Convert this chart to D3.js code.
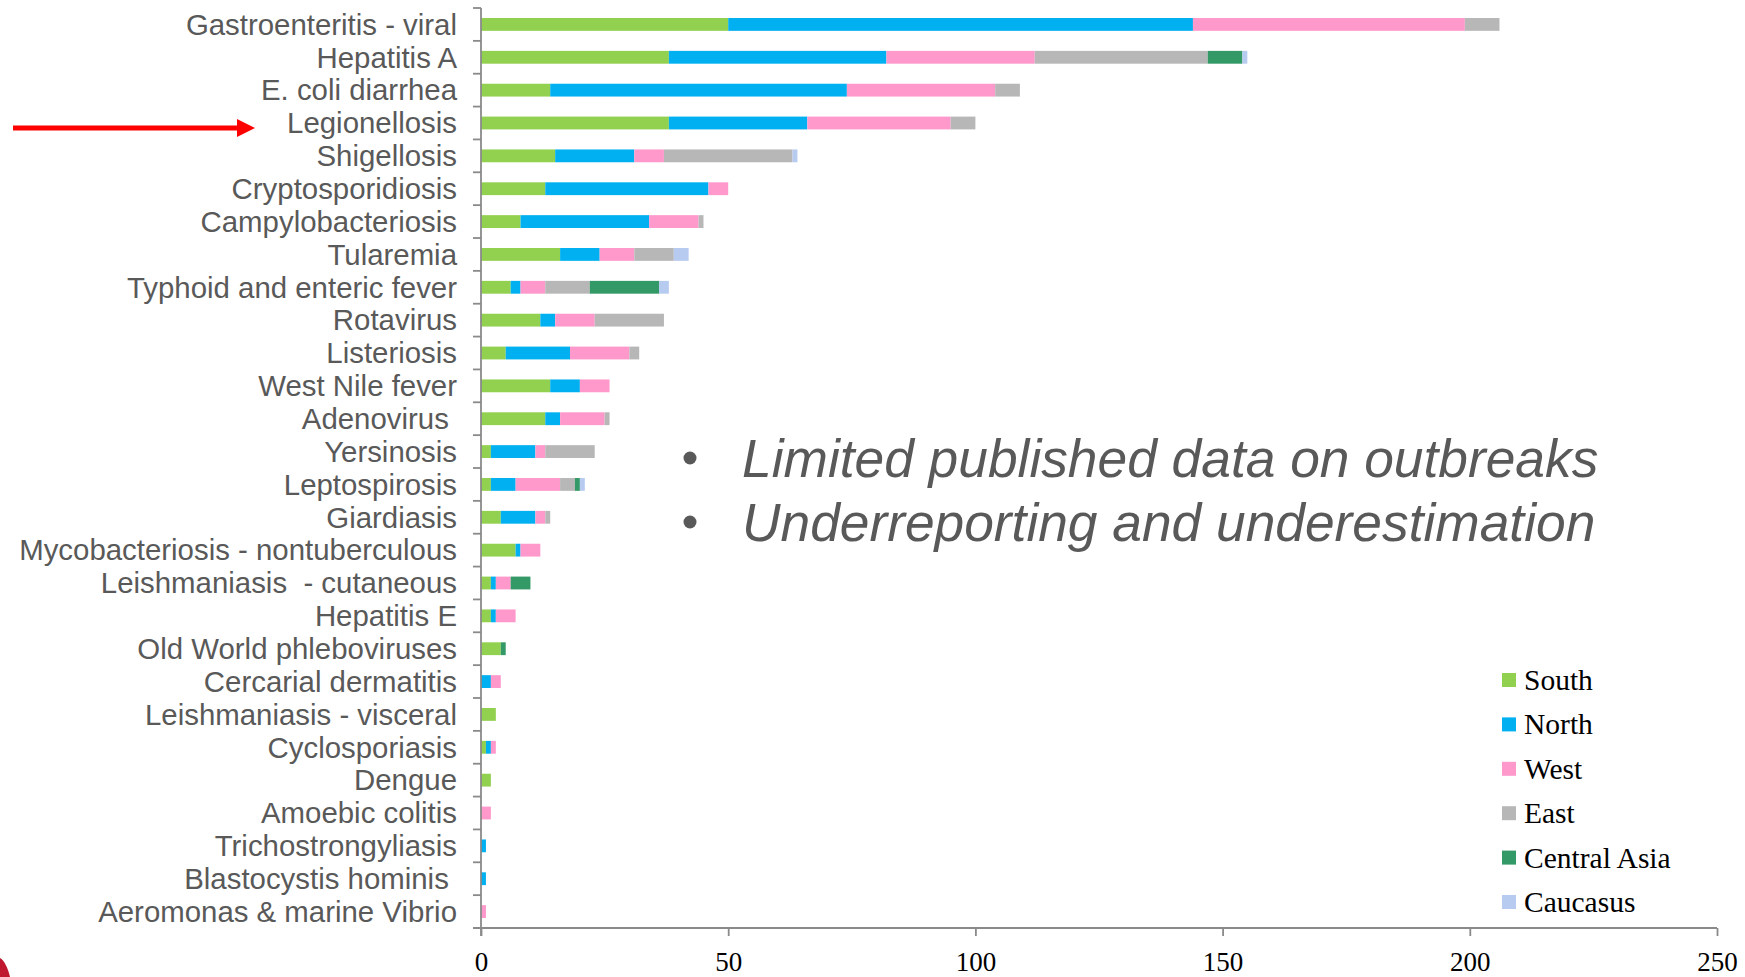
<!DOCTYPE html>
<html>
<head>
<meta charset="utf-8">
<script src="https://cdn.jsdelivr.net/npm/d3@7"></script>
<style>
  body { margin: 0; background: #fff; }
  svg { display: block; }
  .cat { font-family: "Liberation Sans", Arial, sans-serif; font-size: 29.4px; fill: #595959; white-space: pre; }
  .tick-lbl { font-family: "Liberation Serif", "Times New Roman", serif; font-size: 27px; fill: #000; }
  .legend text { font-family: "Liberation Serif", "Times New Roman", serif; font-size: 29.5px; fill: #000; }
  .note { font-family: "Liberation Sans", Arial, sans-serif; font-size: 53.3px; font-style: italic; fill: #595959; }
</style>
</head>
<body>
<svg width="1745" height="977"></svg>
<script>
// categories top to bottom
const categories = [
  'Gastroenteritis - viral', 'Hepatitis A', 'E. coli diarrhea', 'Legionellosis',
  'Shigellosis', 'Cryptosporidiosis', 'Campylobacteriosis', 'Tularemia',
  'Typhoid and enteric fever', 'Rotavirus', 'Listeriosis', 'West Nile fever',
  'Adenovirus ', 'Yersinosis', 'Leptospirosis', 'Giardiasis',
  'Mycobacteriosis - nontuberculous', 'Leishmaniasis  - cutaneous', 'Hepatitis E',
  'Old World phleboviruses', 'Cercarial dermatitis', 'Leishmaniasis - visceral',
  'Cyclosporiasis', 'Dengue', 'Amoebic colitis', 'Trichostrongyliasis',
  'Blastocystis hominis ', 'Aeromonas & marine Vibrio'
];

const south       = [50, 38, 14, 38, 15, 13, 8, 16, 6, 12, 5, 14, 13, 2, 2, 4, 7, 2, 2, 4, 0, 3, 1, 2, 0, 0, 0, 0];
const north       = [94, 44, 60, 28, 16, 33, 26, 8, 2, 3, 13, 6, 3, 9, 5, 7, 1, 1, 1, 0, 2, 0, 1, 0, 0, 1, 1, 0];
const west        = [55, 30, 30, 29, 6, 4, 10, 7, 5, 8, 12, 6, 9, 2, 9, 2, 4, 3, 4, 0, 2, 0, 1, 0, 2, 0, 0, 1];
const east        = [7, 35, 5, 5, 26, 0, 1, 8, 9, 14, 2, 0, 1, 10, 3, 1, 0, 0, 0, 0, 0, 0, 0, 0, 0, 0, 0, 0];
const centralAsia = [0, 7, 0, 0, 0, 0, 0, 0, 14, 0, 0, 0, 0, 0, 1, 0, 0, 4, 0, 1, 0, 0, 0, 0, 0, 0, 0, 0];
const caucasus    = [0, 1, 0, 0, 1, 0, 0, 3, 2, 0, 0, 0, 0, 0, 1, 0, 0, 0, 0, 0, 0, 0, 0, 0, 0, 0, 0, 0];

const regions = ['South', 'North', 'West', 'East', 'Central Asia', 'Caucasus'];
const regionColors = ['#92D050', '#00B0F0', '#FF99CC', '#B7B7B7', '#339966', '#B7CBF0'];
const xTicks = [0, 50, 100, 150, 200, 250];
const notes = ['Limited published data on outbreaks', 'Underreporting and underestimation'];

const rows = categories.map((c, i) => ({
  cat: c,
  'South': south[i], 'North': north[i], 'West': west[i],
  'East': east[i], 'Central Asia': centralAsia[i], 'Caucasus': caucasus[i]
}));

const svg = d3.select('svg');
const axisColor = '#8a8a8a';

const x = d3.scaleLinear().domain([0, 250]).range([481, 1717]);
const y = d3.scaleBand().domain(categories).range([8, 928])
  .paddingInner(0.61).paddingOuter(0.305);
const color = d3.scaleOrdinal().domain(regions).range(regionColors);

const series = d3.stack().keys(regions)(rows);

// bars
svg.append('g').selectAll('g')
  .data(series)
  .join('g')
  .attr('fill', d => color(d.key))
  .selectAll('rect')
  .data(d => d.filter(p => p[1] > p[0]))
  .join('rect')
  .attr('x', d => x(d[0]))
  .attr('y', d => y(d.data.cat))
  .attr('width', d => x(d[1]) - x(d[0]))
  .attr('height', y.bandwidth());

// y axis line + boundary ticks
const step = y.step();
const bounds = d3.range(categories.length + 1).map(i => 8 + i * step);
svg.append('line')
  .attr('x1', x(0)).attr('x2', x(0))
  .attr('y1', 8).attr('y2', 936)
  .attr('stroke', axisColor).attr('stroke-width', 1.8);
svg.append('g').selectAll('line')
  .data(bounds)
  .join('line')
  .attr('x1', x(0) - 8).attr('x2', x(0))
  .attr('y1', d => d).attr('y2', d => d)
  .attr('stroke', axisColor).attr('stroke-width', 1.8);

// category labels
svg.append('g').selectAll('text')
  .data(categories)
  .join('text')
  .attr('class', 'cat')
  .attr('x', 457)
  .attr('y', d => y(d) + y.bandwidth() / 2)
  .attr('dy', '0.35em')
  .attr('text-anchor', 'end')
  .text(d => d);

// x axis
const xAxis = svg.append('g')
  .attr('transform', 'translate(0,928)')
  .call(d3.axisBottom(x).tickValues(xTicks).tickSize(8).tickPadding(16).tickSizeOuter(0));
xAxis.select('.domain').remove();
xAxis.selectAll('line').attr('stroke', axisColor).attr('stroke-width', 1.8);
xAxis.selectAll('text').attr('class', 'tick-lbl').attr('fill', null).attr('font-size', null).attr('font-family', null);
svg.append('line')
  .attr('x1', x(0) - 8).attr('x2', x(250))
  .attr('y1', 928).attr('y2', 928)
  .attr('stroke', axisColor).attr('stroke-width', 1.8);

// legend
const legend = svg.append('g').attr('class', 'legend')
  .selectAll('g')
  .data(regions)
  .join('g')
  .attr('transform', (d, i) => `translate(1502,${673 + i * 44.4})`);
legend.append('rect')
  .attr('width', 14).attr('height', 14)
  .attr('fill', d => color(d));
legend.append('text')
  .attr('x', 22).attr('y', 17)
  .text(d => d);

// bullet notes
const note = svg.append('g').selectAll('g')
  .data(notes)
  .join('g')
  .attr('transform', (d, i) => `translate(0,${477 + i * 64})`);
note.append('circle')
  .attr('cx', 690).attr('cy', -19).attr('r', 6.5)
  .attr('fill', '#595959');
note.append('text')
  .attr('class', 'note')
  .attr('x', 742).attr('y', 0)
  .text(d => d);

// red arrow pointing at Legionellosis
const ay = y('Legionellosis') + y.bandwidth() / 2 + 5;
svg.append('line')
  .attr('x1', 13).attr('x2', 240)
  .attr('y1', ay).attr('y2', ay)
  .attr('stroke', '#FF0000').attr('stroke-width', 5);
svg.append('path')
  .attr('d', `M237,${ay - 9}L255,${ay}L237,${ay + 9}Z`)
  .attr('fill', '#FF0000');

// corner fragment, bottom left
svg.append('path')
  .attr('d', 'M0,958 C4,960 8,968 10,977 L0,977 Z')
  .attr('fill', '#C0182E');
</script>
</body>
</html>
